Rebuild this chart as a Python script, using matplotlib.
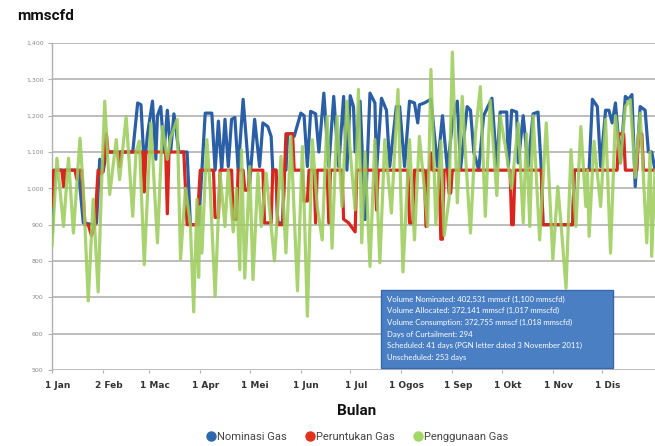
import matplotlib
matplotlib.use("Agg")
import matplotlib.pyplot as plt
import matplotlib.transforms as mtransforms
from matplotlib.lines import Line2D
from matplotlib.ticker import FuncFormatter

# Daily gas volumes (mmscfd), given as (day of year, value) vertices
nominasi_pts = [
    (0, 880), (1, 1000), (2, 1050), (16, 1050), (19, 905), (25, 900), (27, 905), (29, 1080),
    (31, 1045), (33, 1100), (49, 1100), (52, 1235), (54, 1230), (56, 1060), (58, 1150),
    (61, 1240), (63, 1080), (64, 1200), (66, 1225), (68, 1100), (70, 1215), (72, 1100),
    (74, 1205), (77, 1100), (82, 1100), (84, 900), (89, 900), (91, 1050), (93, 1207),
    (97, 1207), (99, 1050), (101, 1185), (103, 1050), (105, 1190), (107, 1060), (109, 1190),
    (111, 1195), (113, 1050), (116, 1245), (120, 1015), (123, 1190), (126, 1060), (128, 1180),
    (131, 1170), (133, 1143), (134, 1050), (136, 1050), (137, 905), (140, 905), (141, 1050),
    (142, 1050), (143, 1150), (146, 1150), (147, 1143), (151, 1207), (153, 1200), (155, 1060),
    (157, 1212), (160, 1205), (162, 1100), (165, 1262), (168, 1060), (171, 1253), (174, 1060),
    (177, 1253), (179, 1050), (181, 1255), (183, 1225), (184, 1100), (187, 1240), (190, 914),
    (193, 1262), (196, 1235), (197, 1050), (200, 1248), (203, 1215), (205, 1060), (209, 1225),
    (211, 1225), (214, 1060), (217, 1240), (220, 1235), (222, 1180), (223, 1230), (226, 1235),
    (230, 1245), (234, 1060), (237, 1200), (240, 1050), (243, 1180), (246, 1240), (248, 1055),
    (252, 1225), (254, 1215), (256, 1100), (259, 1050), (262, 1200), (267, 1248), (270, 1060),
    (272, 1210), (276, 1210), (277, 1060), (279, 1215), (282, 1210), (283, 1070), (286, 1200),
    (289, 1060), (292, 1205), (295, 1210), (297, 1050), (298, 900), (316, 900), (317, 1050),
    (326, 1050), (328, 1245), (331, 1225),
    (333, 1060), (336, 1215), (338, 1215), (340, 1180), (342, 1235), (345, 1070), (348, 1253),
    (350, 1245), (352, 1258), (354, 1005), (357, 1225), (360, 1215), (362, 1100), (364, 1100),
    (366, 1050),
]

peruntukan_pts = [
    (0, 950), (1, 1050), (6, 1050), (7, 1005), (8, 1050), (14, 1050), (15, 1025), (16, 1050),
    (18, 1050), (20, 900), (22, 900), (24, 870), (26, 900), (28, 1050), (30, 1040), (31, 1050),
    (33, 1150), (34, 1100), (40, 1100), (41, 1060), (42, 1100), (55, 1100), (56, 990),
    (57, 1100), (69, 1100), (70, 930), (71, 1100), (80, 1100), (82, 900), (88, 900),
    (90, 1050), (98, 1050), (99, 920), (101, 920), (102, 1050), (109, 1050), (110, 915),
    (112, 915), (113, 1050), (116, 1050), (117, 995), (119, 995), (120, 1050), (128, 1050),
    (129, 905), (133, 905), (134, 1050), (136, 1050), (137, 900), (140, 900), (142, 1150),
    (146, 1150), (147, 1050), (152, 1050), (153, 965), (155, 965), (156, 1050), (159, 1050),
    (160, 905), (161, 1050), (167, 1050), (168, 905), (169, 1050), (176, 1050), (177, 915),
    (180, 905), (184, 880), (185, 1050), (196, 1050), (197, 940), (198, 1050), (216, 1050),
    (217, 905), (219, 905), (220, 1050), (226, 1050), (227, 895), (228, 1050), (229, 1050),
    (230, 1097), (231, 1050), (235, 1050), (236, 860), (237, 860), (238, 1050), (240, 1050),
    (241, 987), (242, 987), (243, 1050), (278, 1050), (279, 900), (280, 900), (281, 1050),
    (297, 1050), (298, 900), (316, 900), (317, 1050), (343, 1050), (344, 1150), (347, 1150),
    (348, 1050), (355, 1050), (356, 1150), (358, 1150), (359, 1050), (366, 1050),
]

penggunaan_pts = [
    (0, 840), (3, 1083), (7, 895), (10, 1083), (13, 877), (17, 1138), (19, 1000), (22, 690),
    (25, 970), (28, 715), (30, 1000), (32, 1240), (35, 983), (39, 1134), (41, 1024),
    (45, 1198), (49, 923), (51, 1100), (53, 1130), (56, 790), (60, 1180), (64, 850),
    (67, 1170), (70, 1080), (72, 1140), (76, 1190), (78, 805), (81, 1000), (84, 900),
    (86, 660), (88, 970), (89, 755), (90, 950), (91, 822), (94, 1134), (96, 1000), (99, 703),
    (102, 1042), (105, 895), (107, 1050), (110, 880), (112, 1000), (114, 776), (115, 1106),
    (117, 753), (120, 1060), (122, 749), (125, 1042), (127, 895), (130, 1042), (135, 800),
    (139, 1088), (142, 822), (145, 1143), (149, 718), (152, 1115), (155, 648), (158, 1134),
    (161, 950), (164, 858), (167, 1198), (170, 835), (173, 1198), (176, 950), (179, 1240),
    (181, 1100), (184, 941), (186, 1272), (188, 850), (190, 1100), (193, 785), (196, 1134),
    (199, 795), (202, 1134), (206, 932), (210, 1272), (213, 770), (217, 1134), (220, 858),
    (223, 1143), (226, 1000), (228, 895), (230, 1327), (233, 900), (236, 1130), (238, 870),
    (241, 970), (243, 1375), (246, 960), (249, 1253), (251, 1090), (254, 877), (257, 1150),
    (260, 1280), (263, 923), (266, 1243), (270, 980), (272, 1200), (275, 1120), (279, 1000),
    (283, 1180), (286, 905), (288, 1150), (290, 895), (292, 1200), (296, 858), (300, 1180),
    (304, 804), (307, 1005), (309, 900), (312, 725), (315, 1106), (318, 895), (321, 1170),
    (324, 950), (325, 1050), (326, 868), (329, 1130), (333, 950), (336, 1190), (339, 822),
    (342, 1200), (345, 1070), (348, 1225), (351, 1244), (354, 1030), (357, 1207), (361, 850),
    (363, 1100), (364, 813), (366, 1050),
]

month_days = [0, 31, 59, 90, 120, 151, 181, 212, 243, 273, 304, 334]
month_labels = ["1 Jan", "2 Feb", "1 Mac", "1 Apr", "1 Mei", "1 Jun", "1 Jul",
                "1 Ogos", "1 Sep", "1 Okt", "1 Nov", "1 Dis"]
y_ticks = [500, 600, 700, 800, 900, 1000, 1100, 1200, 1300, 1400]

series_names = ["Nominasi Gas", "Peruntukan Gas", "Penggunaan Gas"]
line_colors = ["#2b5fa5", "#d8261d", "#9ccd5c"]
line_alphas = [1.0, 1.0, 0.88]
legend_colors = ["#2f68ad", "#e2311c", "#a3d866"]

summary_lines = [
    "Volume Nominated: 402,531 mmscf (1,100 mmscfd)",
    "Volume Allocated: 372,141 mmscf (1,017 mmscfd)",
    "Volume Consumption: 372,755 mmscf (1,018 mmscfd)",
    "Days of Curtailment: 294",
    "Scheduled: 41 days (PGN letter dated 3 November 2011)",
    "Unscheduled: 253 days",
]

fig = plt.figure(figsize=(6.55, 4.46), dpi=100)
ax = fig.add_axes([52 / 655, 1 - 370 / 446, 1 - 52 / 655, (370 - 43) / 446])

for pts, color, alpha in zip([nominasi_pts, peruntukan_pts, penggunaan_pts],
                             line_colors, line_alphas):
    xs = [p[0] for p in pts]
    ys = [p[1] for p in pts]
    ax.plot(xs, ys, color=color, lw=2.3, alpha=alpha, solid_joinstyle="round",
            solid_capstyle="round", zorder=3)

ax.set_xlim(0, 366)
ax.set_ylim(500, 1400)
ax.set_yticks(y_ticks)
ax.yaxis.set_major_formatter(FuncFormatter(lambda v, _: f"{int(v):,}"))
ax.grid(axis="y", color="#b8b8b8", lw=1.3, zorder=0)
ax.set_axisbelow(True)

for side in ["top", "right", "bottom"]:
    ax.spines[side].set_visible(False)
ax.spines["left"].set_color("#b0b0b0")
ax.spines["left"].set_linewidth(1.0)

ax.tick_params(axis="y", labelsize=4.5, labelcolor="#8a8a8a", color="#b0b0b0",
               length=3, width=0.8, pad=3)
ax.set_xticks(month_days)
ax.set_xticklabels(month_labels, fontsize=6.5, fontweight="bold", color="#333333")
ax.tick_params(axis="x", color="#b0b0b0", length=2, width=0.8, pad=6)
offset = mtransforms.ScaledTranslation(4 / 72, 0, fig.dpi_scale_trans)
for lbl in ax.get_xticklabels():
    lbl.set_transform(lbl.get_transform() + offset)

# Summary box
ax.text(0.555, 0.228, "\n".join(summary_lines), transform=ax.transAxes,
        fontsize=5.6, family="Lato", color="white", va="top", ha="left",
        linespacing=1.75, zorder=6)
box = plt.Rectangle((0.546, 0.006), 0.384, 0.239, transform=ax.transAxes,
                    facecolor="#4a7fc4", edgecolor="#3a66a8", lw=1.0, zorder=5)
ax.add_patch(box)

fig.text(17 / 655, 1 - 16 / 446, "mmscfd", fontsize=11, fontweight="bold",
         family="Roboto", ha="left", va="center", color="#111111")
fig.text(357 / 655, 1 - 411 / 446, "Bulan", fontsize=11, fontweight="bold",
         family="Roboto", ha="center", va="center", color="#111111")

handles = [Line2D([], [], marker="o", ls="none", markersize=6.5, color=c,
                  markeredgecolor=c) for c in legend_colors]
fig.legend(handles, series_names, loc="center", ncol=3, frameon=False,
           bbox_to_anchor=(357 / 655, 1 - 437 / 446), handletextpad=0.05,
           columnspacing=1.6, prop={"family": "Roboto", "size": 8},
           labelcolor="#444444", handlelength=1.0)

fig.savefig("out.png", dpi=100)
